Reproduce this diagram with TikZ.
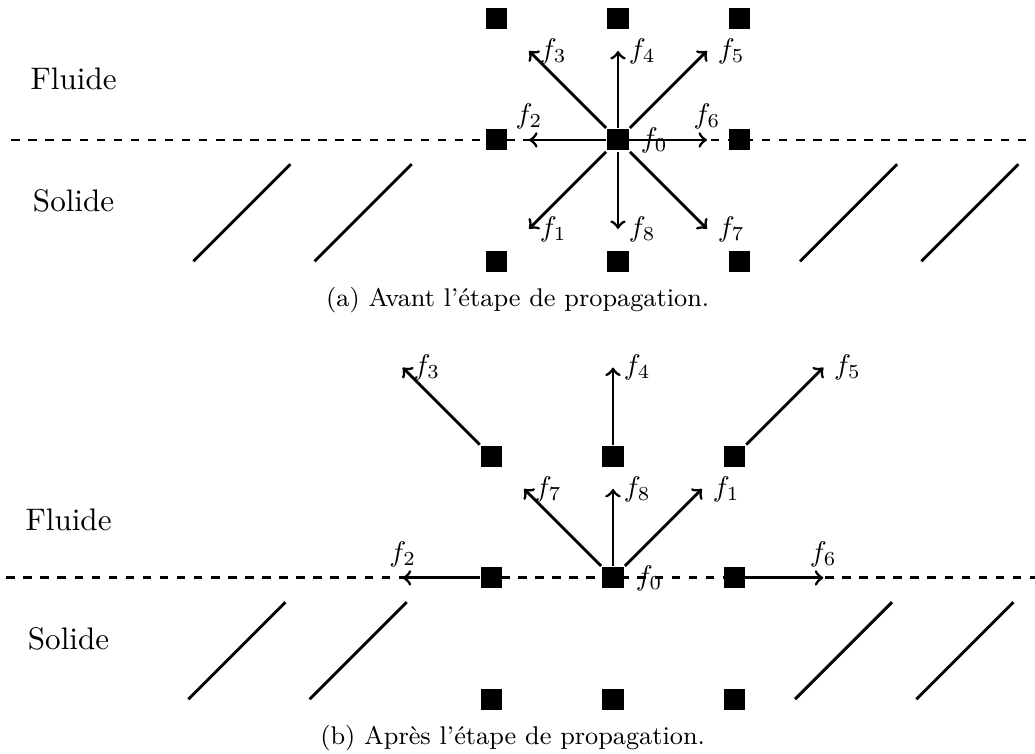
\documentclass[tikz,border=0pt]{standalone}
\usepackage{fontspec}
\usepackage{tikz}
\usetikzlibrary{positioning,arrows}

\begin{document}
\begin{tikzpicture}[->,>=to,line width=1pt]
    \tikzstyle{site}=[fill=black,inner sep=0pt,minimum size=0.26cm]
    \tikzstyle{milieu}=[font=\fontsize{10.95}{13}\selectfont]
    \tikzstyle{legende}=[font=\fontsize{9}{11}\selectfont]
    \useasboundingbox (-7.64,1.73) rectangle (5.155,-7.59);

    % (a) avant la propagation
    \draw[-,dashed] (-7.5,0) -- (5.25,0);
    \foreach \x in {-5.25,-3.75,2.25,3.75}
        \draw[-] (\x,-1.5) -- ++(1.2,1.2);
    \node[milieu] (a-fl) at (-6.73,0.75) {Fluide};
    \node[milieu] (a-so) at (-6.73,-0.75) {Solide};
    \node[site] (a-nw) at (-1.5,1.5) {};
    \node[site] (a-n)  at (0,1.5)    {};
    \node[site] (a-ne) at (1.5,1.5)  {};
    \node[site] (a-w)  at (-1.5,0)   {};
    \node[site,label=right:$f_0$] (a-c) at (0,0) {};
    \node[site] (a-e)  at (1.5,0)    {};
    \node[site] (a-sw) at (-1.5,-1.5) {};
    \node[site] (a-s)  at (0,-1.5)   {};
    \node[site] (a-se) at (1.5,-1.5) {};
    \foreach \dx/\dy/\k in {-1/1/3,0/1/4,1/1/5,-1/-1/1,0/-1/8,1/-1/7}{
        \coordinate (a-t\k) at (1.1*\dx,1.1*\dy);
        \draw (a-c) -- (a-t\k) node[right] {$f_{\k}$};
    }
    \coordinate (a-t2) at (-1.1,0);
    \coordinate (a-t6) at (1.1,0);
    \draw (a-c) -- (a-t2) node[above] {$f_2$};
    \draw (a-c) -- (a-t6) node[above] {$f_6$};
    \node[legende] (a-cap) at (-1.24,-1.98) {(a) Avant l'étape de propagation.};

    % (b) apres la propagation
    \begin{scope}[shift={(-0.062,-5.414)}]
    \draw[-,dashed] (-7.5,0) -- (5.25,0);
    \foreach \x in {-5.25,-3.75,2.25,3.75}
        \draw[-] (\x,-1.5) -- ++(1.2,1.2);
    \node[milieu] (b-fl) at (-6.73,0.72) {Fluide};
    \node[milieu] (b-so) at (-6.73,-0.75) {Solide};
    \node[site] (b-nw) at (-1.5,1.5) {};
    \node[site] (b-n)  at (0,1.5)    {};
    \node[site] (b-ne) at (1.5,1.5)  {};
    \node[site] (b-w)  at (-1.5,0)   {};
    \node[site,label=right:$f_0$] (b-c) at (0,0) {};
    \node[site] (b-e)  at (1.5,0)    {};
    \node[site] (b-sw) at (-1.5,-1.5) {};
    \node[site] (b-s)  at (0,-1.5)   {};
    \node[site] (b-se) at (1.5,-1.5) {};
    \coordinate (b-t3) at (-2.6,2.6);
    \coordinate (b-t4) at (0,2.6);
    \coordinate (b-t5) at (2.6,2.6);
    \coordinate (b-t7) at (-1.1,1.1);
    \coordinate (b-t8) at (0,1.1);
    \coordinate (b-t1) at (1.1,1.1);
    \coordinate (b-t2) at (-2.6,0);
    \coordinate (b-t6) at (2.6,0);
    \draw (b-nw) -- (b-t3) node[right] {$f_3$};
    \draw (b-n)  -- (b-t4) node[right] {$f_4$};
    \draw (b-ne) -- (b-t5) node[right] {$f_5$};
    \draw (b-c)  -- (b-t7) node[right] {$f_7$};
    \draw (b-c)  -- (b-t8) node[right] {$f_8$};
    \draw (b-c)  -- (b-t1) node[right] {$f_1$};
    \draw (b-w)  -- (b-t2) node[above] {$f_2$};
    \draw (b-e)  -- (b-t6) node[above] {$f_6$};
    \node[legende] (b-cap) at (-1.24,-1.98) {(b) Après l'étape de propagation.};
    \end{scope}
\end{tikzpicture}
\end{document}
